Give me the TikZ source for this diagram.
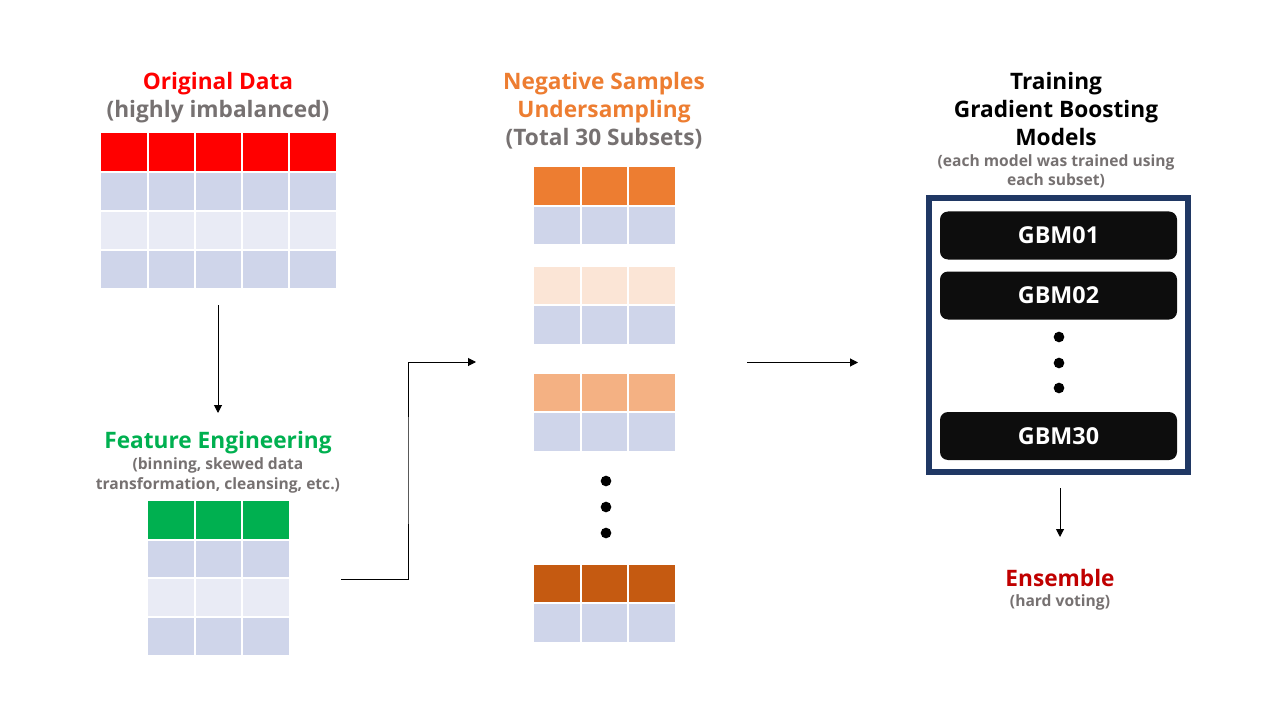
\documentclass[tikz,border=0pt]{standalone}
\usepackage{fontspec}
\setmainfont{Open Sans}
\usetikzlibrary{arrows.meta}

\definecolor{rojo}{HTML}{FF0000}
\definecolor{rojoOsc}{HTML}{C00000}
\definecolor{verde}{HTML}{00B050}
\definecolor{naranja}{HTML}{ED7D31}
\definecolor{naranjaClaro}{HTML}{FBE5D6}
\definecolor{naranjaMedio}{HTML}{F4B183}
\definecolor{naranjaOsc}{HTML}{C55A11}
\definecolor{filaA}{HTML}{CFD5EA}
\definecolor{filaB}{HTML}{E9EBF5}
\definecolor{gris}{HTML}{767171}
\definecolor{azul}{HTML}{203864}
\definecolor{negro}{HTML}{0D0D0D}

\tikzset{
	flecha/.style={draw=black,line width=0.75pt,-{Triangle[length=6pt,width=6pt]}},
	separa/.style={white,line width=1.5pt},
	titulo/.style={font=\fontsize{17}{21}\selectfont\bfseries,align=center,inner sep=0pt,anchor=base},
	nota/.style={font=\fontsize{11.7}{14.5}\selectfont\bfseries,text=gris,align=center,inner sep=0pt,anchor=base},
	modelo/.style={fill=negro,rounded corners=6pt,minimum width=177.75pt,minimum height=36pt,inner sep=0pt,text=white,font=\fontsize{17.5}{19}\selectfont\bfseries}
}

\begin{document}
\begin{tikzpicture}[x=0.75pt,y=-0.75pt]
	\useasboundingbox (0,0) rectangle (1280,720);

	% Datos originales
	\node[titulo,text=rojo] (original) at (218,90) {Original Data};
	\node[titulo,text=gris] (desbalance) at (218,118) {(highly imbalanced)};
	\fill[rojo] (101,133) rectangle (336,172);
	\fill[filaA] (101,172) rectangle (336,211);
	\fill[filaB] (101,211) rectangle (336,250);
	\fill[filaA] (101,250) rectangle (336,288);
	\draw[separa] (101,172) -- (336,172);
	\draw[separa] (101,211) -- (336,211);
	\draw[separa] (101,250) -- (336,250);
	\draw[separa] (148,133) -- (148,288);
	\draw[separa] (195,133) -- (195,288);
	\draw[separa] (242,133) -- (242,288);
	\draw[separa] (289,133) -- (289,288);

	% Feature engineering
	\node[titulo,text=verde] (feature) at (218,448) {Feature Engineering};
	\node[nota] (featNota) at (218,489) {(binning, skewed data\\transformation, cleansing, etc.)};
	\fill[verde] (148,501) rectangle (289,540);
	\fill[filaA] (148,540) rectangle (289,578);
	\fill[filaB] (148,578) rectangle (289,617);
	\fill[filaA] (148,617) rectangle (289,655);
	\draw[separa] (148,540) -- (289,540);
	\draw[separa] (148,578) -- (289,578);
	\draw[separa] (148,617) -- (289,617);
	\draw[separa] (195,501) -- (195,655);
	\draw[separa] (242,501) -- (242,655);

	% Submuestreo de negativos
	\node[titulo,text=naranja] (negativas) at (604,118) {Negative Samples\\Undersampling};
	\node[titulo,text=gris] (subsets) at (604,146) {(Total 30 Subsets)};
	\fill[naranja] (534,167) rectangle (675,206);
	\fill[filaA] (534,206) rectangle (675,244);
	\fill[naranjaClaro] (534,267) rectangle (675,305);
	\fill[filaA] (534,305) rectangle (675,344);
	\fill[naranjaMedio] (534,374) rectangle (675,412);
	\fill[filaA] (534,412) rectangle (675,451);
	\fill[naranjaOsc] (534,565) rectangle (675,603);
	\fill[filaA] (534,603) rectangle (675,642);
	\draw[separa] (534,206) -- (675,206);
	\draw[separa] (534,305) -- (675,305);
	\draw[separa] (534,412) -- (675,412);
	\draw[separa] (534,603) -- (675,603);
	\draw[separa] (581,160) -- (581,650);
	\draw[separa] (628,160) -- (628,650);
	\fill (606,481) circle (4pt);
	\fill (606,507) circle (4pt);
	\fill (606,533) circle (4pt);

	% Modelos
	\node[titulo] (training) at (1056,146) {Training\\Gradient Boosting\\Models};
	\node[nota] (trainNota) at (1056,186) {(each model was trained using\\each subset)};
	\draw[azul,line width=4.5pt] (928.5,198.5) rectangle (1188,471.5);
	\node[modelo] (gbm01) at (1058.5,235.5) {GBM01};
	\node[modelo] (gbm02) at (1058.5,295.5) {GBM02};
	\node[modelo] (gbm30) at (1058.5,436) {GBM30};
	\fill (1059,337) circle (4pt);
	\fill (1059,363) circle (4pt);
	\fill (1059,388) circle (4pt);

	% Ensemble
	\node[titulo,text=rojoOsc] (ensemble) at (1060,586) {Ensemble};
	\node[nota] (voting) at (1060,606) {(hard voting)};

	% Flechas
	\coordinate (origAbajo) at (218,305);
	\coordinate (featArriba) at (218,413);
	\coordinate (featDer) at (341,579);
	\coordinate (codo) at (408,470);
	\coordinate (negIzq) at (476,362);
	\coordinate (negDer) at (747,362.5);
	\coordinate (trainIzq) at (858,362.5);
	\coordinate (cajaAbajo) at (1060,488);
	\coordinate (ensArriba) at (1060,537);
	\draw[flecha] (origAbajo) -- (featArriba);
	\draw[flecha] (featDer) -| (codo) |- (negIzq);
	\draw[flecha] (negDer) -- (trainIzq);
	\draw[flecha] (cajaAbajo) -- (ensArriba);
\end{tikzpicture}
\end{document}
